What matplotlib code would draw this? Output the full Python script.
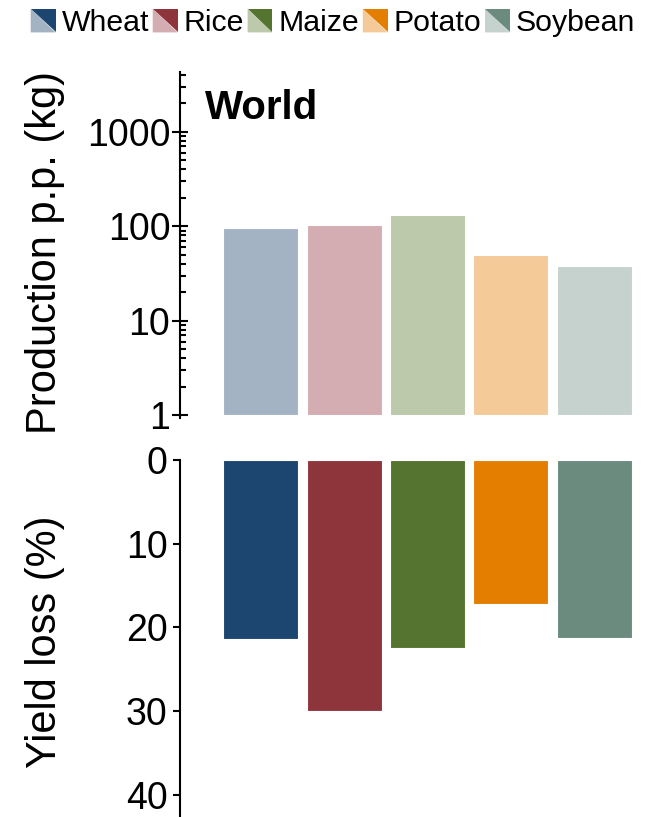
import matplotlib
matplotlib.use("Agg")
import matplotlib.pyplot as plt
from matplotlib.legend_handler import HandlerBase
from matplotlib.patches import Polygon, Patch
from matplotlib.ticker import LogLocator, NullFormatter, FixedLocator

plt.rcParams["font.family"] = ["Liberation Sans", "DejaVu Sans"]

crops = ["Wheat", "Rice", "Maize", "Potato", "Soybean"]
production = [95, 102, 130, 50, 37.5]      # kg per person, world
yield_loss = [21.4, 30.0, 22.5, 17.2, 21.3]  # %
colors = ["#1C4670", "#8E353C", "#55742F", "#E37E00", "#6A8B7E"]
light = ["#A3B3C4", "#D3ADB1", "#BCC9AB", "#F4CB98", "#C5D2CD"]

pos = list(range(1, len(crops) + 1))

fig = plt.figure(figsize=(6.49, 8.17), dpi=100)
W, H = 649, 817

def ax_rect(x0, y0, x1, y1):
    return [x0 / W, 1 - y1 / H, (x1 - x0) / W, (y1 - y0) / H]

# --- top panel: production, log scale
ax1 = fig.add_axes(ax_rect(180, 72, 649, 418))
ax1.bar(pos, [p - 1 for p in production], bottom=1, width=0.9,
        color=light, edgecolor="white", linewidth=0.8)
ax1.set_yscale("log")
ax1.set_ylim(0.93, 4300)
ax1.set_xlim(0.03, 5.66)
ax1.yaxis.set_major_locator(FixedLocator([1, 10, 100, 1000]))
ax1.set_yticklabels(["1", "10", "100", "1000"])
ax1.yaxis.set_minor_locator(LogLocator(base=10, subs=range(2, 10), numticks=20))
ax1.yaxis.set_minor_formatter(NullFormatter())
ax1.tick_params(axis="y", which="major", direction="inout", length=12,
                width=1.5, labelsize=27, pad=1)
ax1.tick_params(axis="y", which="minor", direction="in", length=4, width=1.5)
ax1.set_xticks([])
for s in ["top", "right", "bottom"]:
    ax1.spines[s].set_visible(False)
ax1.spines["left"].set_linewidth(1.5)

# --- bottom panel: yield loss
ax2 = fig.add_axes(ax_rect(180, 460, 649, 817))
ax2.bar(pos, yield_loss, width=0.9, color=colors, edgecolor="white", linewidth=0.8)
ax2.set_ylim(42.65, 0)
ax2.set_xlim(0.03, 5.66)
ax2.set_yticks([0, 10, 20, 30, 40])
ax2.tick_params(axis="y", direction="out", length=5, width=1.5, labelsize=27, pad=4)
ax2.set_xticks([])
for s in ["top", "right", "bottom"]:
    ax2.spines[s].set_visible(False)
ax2.spines["left"].set_linewidth(1.5)

# labels
fig.text(45 / W, 1 - 252 / H, "Production p.p. (kg)", rotation=90,
         ha="center", va="center", fontsize=30)
fig.text(45 / W, 1 - 642 / H, "Yield loss (%)", rotation=90,
         ha="center", va="center", fontsize=30)
fig.text(205 / W, 1 - 108 / H, "World", ha="left", va="center",
         fontsize=29, fontweight="bold")

# legend with split (light / dark) swatches
class SplitHandler(HandlerBase):
    def create_artists(self, legend, orig_handle, xdescent, ydescent,
                       width, height, fontsize, trans):
        x0, y0 = -xdescent, -ydescent
        lo = Polygon([[x0, y0], [x0, y0 + height], [x0 + width, y0]],
                     closed=True, facecolor=orig_handle.light, edgecolor="none",
                     transform=trans)
        hi = Polygon([[x0, y0 + height], [x0 + width, y0 + height], [x0 + width, y0]],
                     closed=True, facecolor=orig_handle.dark, edgecolor="none",
                     transform=trans)
        return [lo, hi]

handles = []
for c, l, name in zip(colors, light, crops):
    h = Patch(label=name)
    h.dark = c
    h.light = l
    handles.append(h)

fig.legend(handles=handles, loc="center", bbox_to_anchor=(333 / W, 1 - 23 / H),
           ncol=5, frameon=False, fontsize=21.8, handlelength=0.82,
           handleheight=0.82, handletextpad=0.2, columnspacing=0.12,
           borderaxespad=0, borderpad=0,
           handler_map={Patch: SplitHandler()})

fig.savefig("out.png", dpi=100)
